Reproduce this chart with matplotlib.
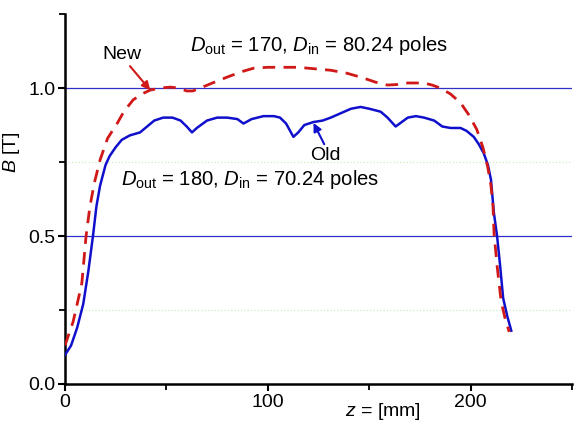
import numpy as np
import matplotlib
matplotlib.use("Agg")
import matplotlib.pyplot as plt
from matplotlib.ticker import MultipleLocator

plt.rcParams["font.family"] = ["Liberation Sans", "DejaVu Sans"]
plt.rcParams["mathtext.fontset"] = "custom"
plt.rcParams["mathtext.rm"] = "Liberation Sans"
plt.rcParams["mathtext.it"] = "Liberation Sans:italic"

# old poles (solid blue)
z_old = [0, 3, 6, 9, 11.5, 13.8, 15.5, 17.3, 20, 22, 25, 28, 32, 37, 40.5, 44,
         48.4, 53, 57, 60, 62.6, 65, 70, 75, 80, 85, 88, 92, 97.8, 103, 106, 109,
         112.6, 115, 118, 122.5, 127, 131, 136, 141, 145.7, 150, 155.6, 159, 163,
         166, 169, 173, 177, 182, 186, 190, 195, 198, 201.5, 204, 206.4, 208.5,
         210, 211.4, 213, 214.5, 216, 218, 220]
b_old = [0.098, 0.13, 0.19, 0.27, 0.38, 0.50, 0.60, 0.67, 0.74, 0.77, 0.80, 0.825,
         0.84, 0.85, 0.87, 0.89, 0.90, 0.90, 0.89, 0.87, 0.85, 0.865, 0.89, 0.90,
         0.90, 0.895, 0.88, 0.895, 0.905, 0.905, 0.90, 0.88, 0.835, 0.85, 0.875,
         0.885, 0.89, 0.90, 0.915, 0.93, 0.936, 0.93, 0.92, 0.90, 0.87, 0.885,
         0.90, 0.905, 0.90, 0.89, 0.87, 0.865, 0.865, 0.855, 0.835, 0.81, 0.78,
         0.74, 0.69, 0.58, 0.50, 0.40, 0.29, 0.23, 0.18]

# new poles (dashed red)
z_new = [0, 2, 4, 6, 8.3, 10.4, 12.3, 14.5, 17.3, 21, 25.7, 29, 33.6, 38, 42, 47,
         52, 56, 60, 63, 66.7, 72, 80, 87, 93, 100, 107.7, 115, 123, 131, 139, 147,
         153, 159, 164, 169, 177, 181, 185, 190, 195, 199, 203, 206, 208.4, 210,
         211, 211.5, 213, 215, 217, 219]
b_new = [0.13, 0.17, 0.21, 0.27, 0.34, 0.50, 0.60, 0.68, 0.757, 0.83, 0.88, 0.92,
         0.96, 0.98, 0.993, 1.0, 1.003, 1.0, 0.99, 0.99, 1.0, 1.015, 1.037, 1.055,
         1.067, 1.07, 1.07, 1.07, 1.065, 1.06, 1.05, 1.034, 1.02, 1.01, 1.012,
         1.017, 1.017, 1.01, 1.0, 0.98, 0.95, 0.91, 0.86, 0.80, 0.733, 0.67, 0.60,
         0.51, 0.40, 0.28, 0.22, 0.176]

fig = plt.figure(figsize=(5.75, 4.25), dpi=100)
ax = fig.add_axes([0.113, 0.0965, 0.882, 0.8705])

ax.set_xlim(0, 250)
ax.set_ylim(0, 1.25)

# grid lines
for yv in [0.5, 1.0]:
    ax.axhline(yv, color="#3030c8", lw=0.9, zorder=1)
for yv in [0.25, 0.75]:
    ax.axhline(yv, color="#c8f0c0", lw=0.9, ls=":", zorder=1)

ax.plot(z_old, b_old, color="#1010cc", lw=1.8, zorder=3)
ax.plot(z_new, b_new, color="#d01818", lw=2.0, ls=(0, (4.5, 3)), zorder=3)

fs = 14
ax.annotate("New", xy=(42, 0.993), xytext=(28, 1.112), fontsize=fs,
            ha="center", va="center",
            arrowprops=dict(arrowstyle="-|>", color="#d01818", lw=1.5,
                            shrinkA=0, shrinkB=0, mutation_scale=12,
                            relpos=(0.65, 0.0)))
ax.annotate("Old", xy=(122.5, 0.882), xytext=(128.5, 0.772), fontsize=fs,
            ha="center", va="center",
            arrowprops=dict(arrowstyle="-|>", color="#1010cc", lw=1.5,
                            shrinkA=0, shrinkB=0, mutation_scale=12,
                            relpos=(0.5, 1.0)))

ax.text(61.7, 1.145, r"$D_{\mathrm{out}}$ = 170, $D_{\mathrm{in}}$ = 80.24 poles",
        fontsize=14.6, va="center", ha="left")
ax.text(27.7, 0.69, r"$D_{\mathrm{out}}$ = 180, $D_{\mathrm{in}}$ = 70.24 poles",
        fontsize=14.6, va="center", ha="left")

ax.set_xlabel(r"$z$ = [mm]", fontsize=fs)
ax.xaxis.set_label_coords(0.627, -0.045)
ax.set_ylabel(r"$B$ [T]", fontsize=fs)
ax.yaxis.set_label_coords(-0.085, 0.627)

ax.xaxis.set_major_locator(MultipleLocator(100))
ax.xaxis.set_minor_locator(MultipleLocator(50))
ax.yaxis.set_major_locator(MultipleLocator(0.5))
ax.yaxis.set_minor_locator(MultipleLocator(0.25))
ax.yaxis.set_major_formatter(lambda v, pos=None: f"{v:.1f}")

ax.spines["top"].set_visible(False)
ax.spines["right"].set_visible(False)
ax.spines["left"].set_linewidth(1.8)
ax.spines["bottom"].set_linewidth(1.8)
ax.tick_params(which="major", direction="out", length=5, width=1.5,
               labelsize=fs, pad=2)
ax.tick_params(which="minor", direction="out", length=4, width=1.3)

fig.savefig("out.png", dpi=100)
